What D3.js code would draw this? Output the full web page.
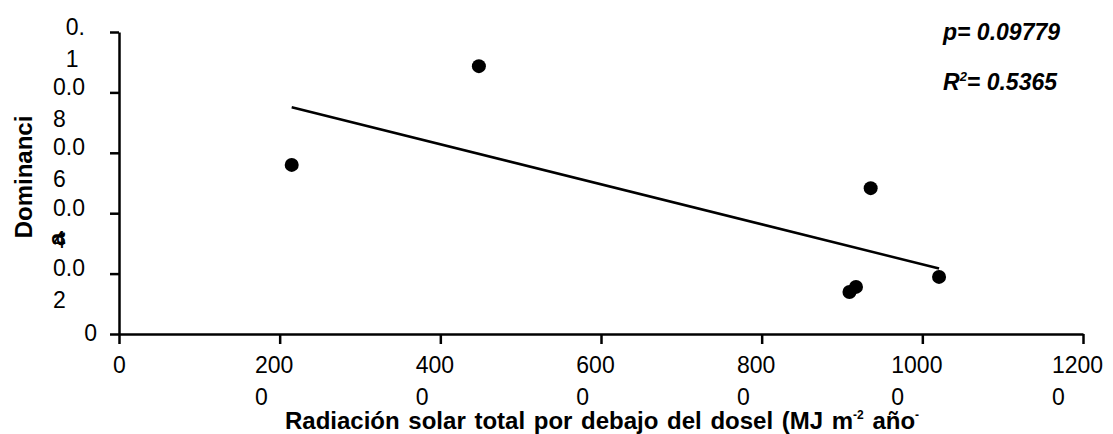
<!DOCTYPE html>
<html>
<head>
<meta charset="utf-8">
<script src="https://d3js.org/d3.v7.min.js"></script>
<style>
  body { margin: 0; background: #fff; }
  text { font-family: "Liberation Sans", Arial, sans-serif; fill: #000; }
</style>
</head>
<body>
<div id="chart"></div>
<script>
// values
var radiacion = [2150, 4480, 9093, 9174, 9357, 10208];
var dominancia = [0.056, 0.0887, 0.0139, 0.0156, 0.0483, 0.0189];

// tick labels are wrapped in the original, keep the same line breaks
var xTicks = [0, 2000, 4000, 6000, 8000, 10000, 12000];
var xTickLabels = [["0"], ["200", "0"], ["400", "0"], ["600", "0"], ["800", "0"], ["1000", "0"], ["1200", "0"]];
var yTicks = [0, 0.02, 0.04, 0.06, 0.08, 0.1];
var yTickLabels = [["0"], ["0.0", "2"], ["0.0", "4"], ["0.0", "6"], ["0.0", "8"], ["0.", "1"]];

var pValue = "0.09779";
var r2Value = "0.5365";

// set the dimensions and margins of the graph
var margin = {top: 32, right: 30, bottom: 100, left: 119},
    width = 964,
    height = 302;

var root = d3.select("#chart")
  .append("svg")
    .attr("width", 1113)
    .attr("height", 434);

var svg = root.append("g")
    .attr("transform", "translate(" + margin.left + "," + margin.top + ")");

var x = d3.scaleLinear()
  .domain([0, 12000])
  .range([0, width]);

var y = d3.scaleLinear()
  .domain([0, 0.1])
  .range([height, 0]);

// X axis
var xAxis = svg.append("g")
  .attr("transform", "translate(0," + height + ")")
  .call(d3.axisBottom(x).tickValues(xTicks).tickSize(10).tickSizeOuter(0).tickFormat(""));

// Y axis
var yAxis = svg.append("g")
  .call(d3.axisLeft(y).tickValues(yTicks).tickSize(9).tickSizeOuter(0).tickFormat(""));

svg.selectAll(".domain, .tick line")
  .attr("stroke", "#000")
  .attr("stroke-width", 2.5);
svg.selectAll(".tick text").remove();

xAxis.selectAll(".tick").each(function(d, i) {
  var lines = xTickLabels[i];
  var t = d3.select(this).append("text")
    .attr("text-anchor", "start")
    .style("font-size", "23px");
  var first = t.append("tspan").attr("y", 39).text(lines[0]);
  var w = first.node().getComputedTextLength();
  var x0 = lines.length > 1 ? -6 - w / 2 : -w / 2;
  first.attr("x", x0);
  if (lines[1]) t.append("tspan").attr("x", x0).attr("y", 71).text(lines[1]);
});

yAxis.selectAll(".tick").each(function(d, i) {
  var lines = yTickLabels[i];
  var t = d3.select(this).append("text")
    .attr("text-anchor", "start")
    .style("font-size", "23px");
  var first = t.append("tspan").text(lines[0]);
  var w = first.node().getComputedTextLength();
  if (lines.length > 1) {
    first.attr("x", -34 - w).attr("y", 2);
    t.append("tspan").attr("x", -34 - w).attr("y", 34).text(lines[1]);
  } else {
    first.attr("x", -22 - w).attr("y", 6);
  }
});

// regression line (least squares on the points)
var mx = d3.mean(radiacion), my = d3.mean(dominancia);
var sxy = d3.sum(radiacion, function(v, i) { return (v - mx) * (dominancia[i] - my); });
var sxx = d3.sum(radiacion, function(v) { return (v - mx) * (v - mx); });
var slope = sxy / sxx, intercept = my - slope * mx;
var xr = d3.extent(radiacion);

svg.append("path")
  .datum(xr)
  .attr("fill", "none")
  .attr("stroke", "#000")
  .attr("stroke-width", 2.5)
  .attr("d", d3.line()
    .x(function(d) { return x(d); })
    .y(function(d) { return y(intercept + slope * d); }));

// points
svg.selectAll("myDot")
  .data(radiacion)
  .enter()
  .append("circle")
    .attr("cx", function(d) { return x(d); })
    .attr("cy", function(d, i) { return y(dominancia[i]); })
    .attr("r", 7)
    .attr("fill", "#000");

// axis titles
var xt = root.append("text")
  .attr("x", 285)
  .attr("y", 429)
  .style("font-size", "24px")
  .style("word-spacing", "2px")
  .style("font-weight", "bold");
xt.append("tspan").text("Radiación solar total por debajo del dosel (MJ m");
xt.append("tspan").attr("dy", -10).style("font-size", "12px").text("-2");
xt.append("tspan").attr("dy", 10).text(" año");
xt.append("tspan").attr("dy", -10).style("font-size", "12px").text("-");

root.append("text")
  .attr("transform", "translate(32,177)rotate(-90)")
  .style("text-anchor", "middle")
  .style("font-size", "24px")
  .style("font-weight", "bold")
  .text("Dominanci");
root.append("text")
  .attr("transform", "translate(65,246)rotate(-90)")
  .style("font-size", "24px")
  .style("font-weight", "bold")
  .text("a");

// stats
root.append("text")
  .attr("x", 943)
  .attr("y", 40)
  .style("font-size", "23px")
  .style("font-style", "italic")
  .style("font-weight", "bold")
  .text("p= " + pValue);
var rt = root.append("text")
  .attr("x", 943)
  .attr("y", 90)
  .style("font-size", "23px")
  .style("font-style", "italic")
  .style("font-weight", "bold");
rt.append("tspan").text("R");
rt.append("tspan").attr("dy", -9).style("font-size", "13px").text("2");
rt.append("tspan").attr("dy", 9).text("= " + r2Value);
</script>
</body>
</html>
